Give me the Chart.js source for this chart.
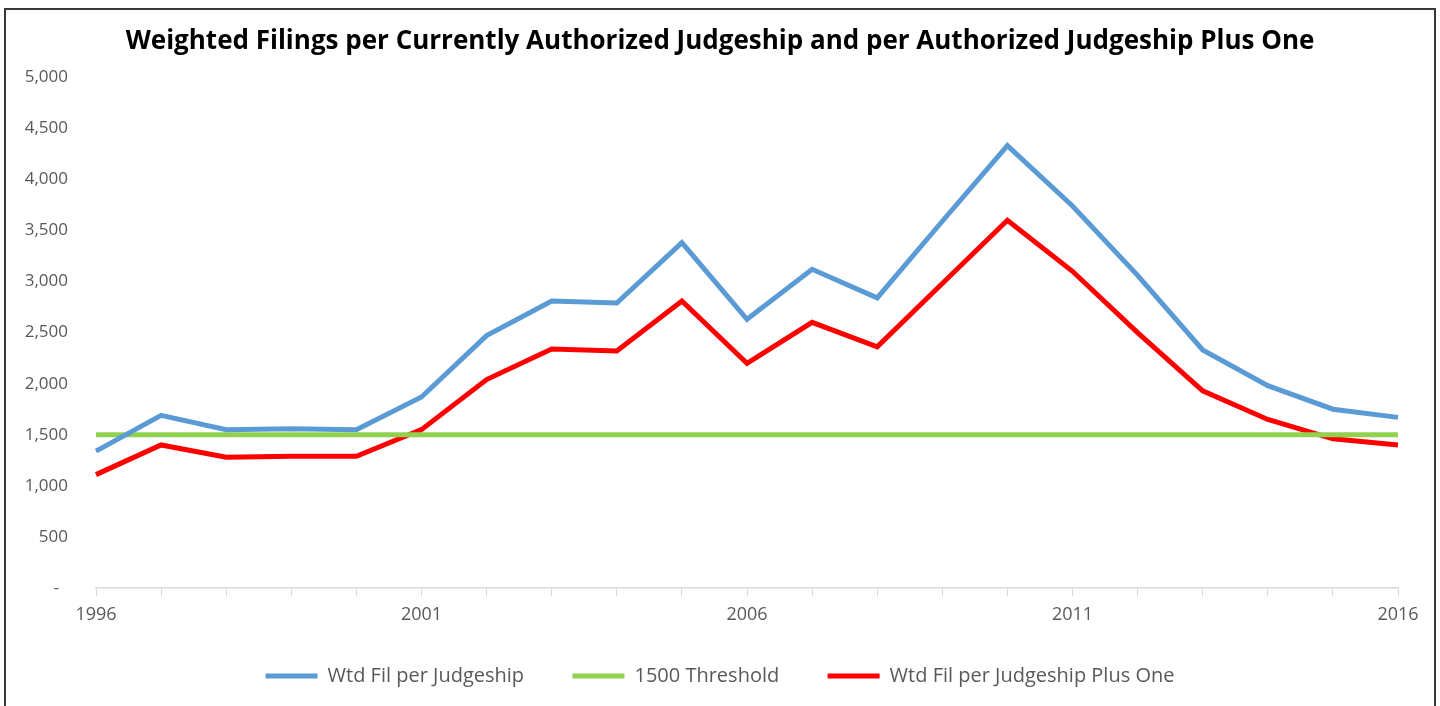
<!DOCTYPE html>
<html>
<head>
<meta charset="utf-8">
<script src="https://cdn.jsdelivr.net/npm/chart.js@4/dist/chart.umd.min.js"></script>
<style>
  html, body { margin: 0; padding: 0; background: #fff; overflow: hidden; }
  #box {
    position: absolute; left: 4px; top: 8px;
    width: 1428px; height: 696px;
    border: 2px solid #3a3a3a;
  }
</style>
</head>
<body>
<div id="box"><canvas id="chart" width="1428" height="696"></canvas></div>
<script>
  // data
  var years = [1996, 1997, 1998, 1999, 2000, 2001, 2002, 2003, 2004, 2005, 2006,
               2007, 2008, 2009, 2010, 2011, 2012, 2013, 2014, 2015, 2016];
  var wtdFil = [1340, 1690, 1550, 1560, 1550, 1870, 2470, 2810, 2790, 3380, 2630,
                3120, 2840, 3590, 4330, 3740, 3060, 2330, 1980, 1750, 1670];
  var threshold = [1500, 1500, 1500, 1500, 1500, 1500, 1500, 1500, 1500, 1500, 1500,
                   1500, 1500, 1500, 1500, 1500, 1500, 1500, 1500, 1500, 1500];
  var wtdFilPlusOne = [1110, 1400, 1280, 1290, 1290, 1550, 2040, 2340, 2320, 2810, 2200,
                       2600, 2360, 2980, 3600, 3100, 2500, 1930, 1650, 1460, 1400];
  var yTicks = [0, 500, 1000, 1500, 2000, 2500, 3000, 3500, 4000, 4500, 5000];

  Chart.defaults.font.family = "'Open Sans', Lato, sans-serif";
  Chart.defaults.color = "#595959";

  new Chart("chart", {
    type: "line",
    data: {
      labels: years,
      datasets: [
        { label: "Wtd Fil per Judgeship", data: wtdFil, borderColor: "#5B9BD5", backgroundColor: "#5B9BD5", borderWidth: 5, pointRadius: 0, fill: false },
        { label: "1500 Threshold", data: threshold, borderColor: "#92D050", backgroundColor: "#92D050", borderWidth: 5, pointRadius: 0, fill: false },
        { label: "Wtd Fil per Judgeship Plus One", data: wtdFilPlusOne, borderColor: "#FF0000", backgroundColor: "#FF0000", borderWidth: 5, pointRadius: 0, fill: false }
      ]
    },
    options: {
      responsive: false,
      animation: false,
      layout: { padding: { left: 0, right: 0, top: 0, bottom: 10 } },
      plugins: {
        title: {
          display: true,
          text: "Weighted Filings per Currently Authorized Judgeship and per Authorized Judgeship Plus One",
          color: "#000",
          font: { size: 26, weight: "bold" },
          padding: { top: 16, bottom: 20 }
        },
        legend: {
          position: "bottom",
          labels: {
            usePointStyle: true,
            pointStyle: "line",
            pointStyleWidth: 52,
            padding: 38,
            font: { size: 20 },
            color: "#595959",
            generateLabels: function (chart) {
              var items = Chart.defaults.plugins.legend.labels.generateLabels(chart);
              // a bit more room between entries
              items.forEach(function (it, i) { if (i < items.length - 1) it.text += "  "; });
              return items;
            }
          }
        },
        tooltip: { enabled: false }
      },
      scales: {
        x: {
          type: "category",
          offset: false,
          grid: { display: true, drawOnChartArea: false, drawTicks: true, tickLength: 8, color: "#d9d9d9" },
          border: { color: "#d9d9d9", width: 1.5 },
          ticks: {
            autoSkip: false, maxRotation: 0, padding: 8,
            font: { size: 18 },
            callback: function (v, i) { return (years[i] - 1996) % 5 === 0 ? String(years[i]) : ""; }
          },
          afterFit: function (s) { s.height = 40; }
        },
        y: {
          min: 0, max: 5000,
          grid: { display: false },
          border: { display: false },
          afterBuildTicks: function (s) { s.ticks = yTicks.map(function (v) { return { value: v }; }); },
          ticks: {
            padding: 20,
            font: { size: 17 },
            callback: function (v) { return v === 0 ? "-  " : v.toLocaleString("en-US"); }
          },
          afterFit: function (s) { s.width = 90; }
        },
        // empty right margin so title and legend stay centred on the whole box
        yRight: {
          position: "right",
          grid: { display: false },
          border: { display: false },
          ticks: { display: false },
          afterFit: function (s) { s.width = 36; }
        }
      }
    }
  });
</script>
</body>
</html>
